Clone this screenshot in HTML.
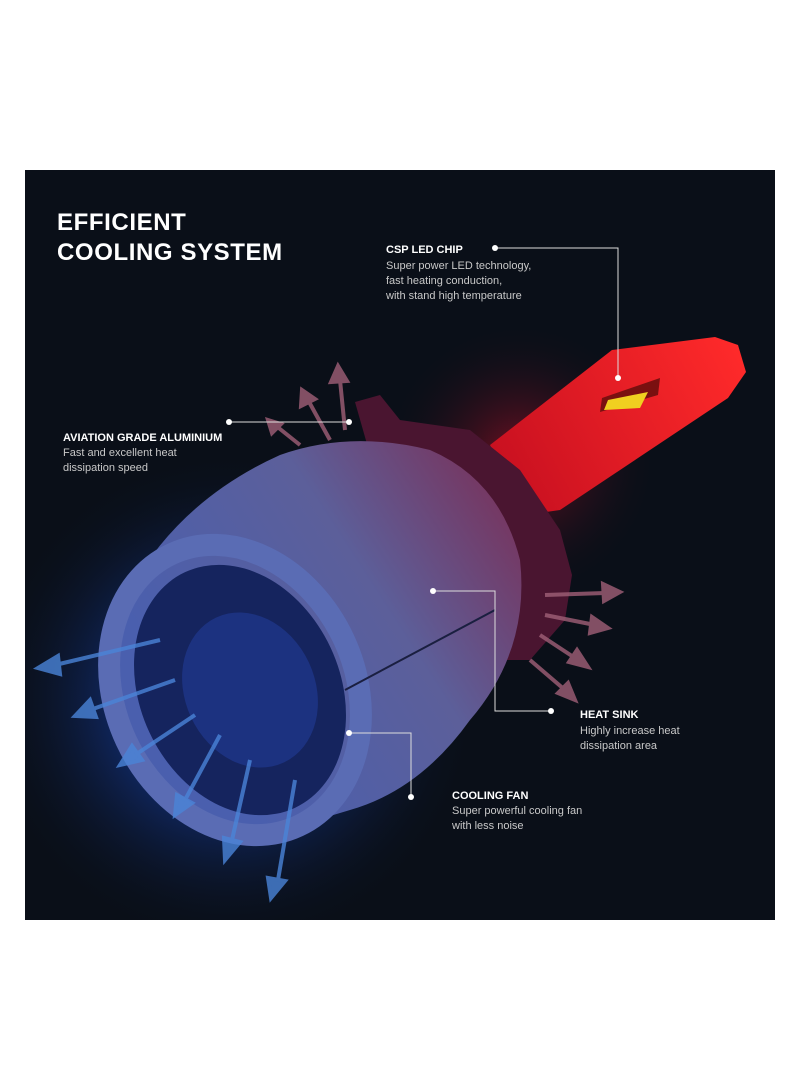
<!DOCTYPE html>
<html><head><meta charset="utf-8"><style>
html,body{margin:0;padding:0;background:#fff;}
body{width:800px;height:1091px;position:relative;overflow:hidden;font-family:"Liberation Sans",sans-serif;}
svg{position:absolute;left:0;top:0;}
</style></head><body>
<svg width="800" height="1091" viewBox="0 0 800 1091">
<defs>
<radialGradient id="glow" cx="230" cy="700" r="250" gradientUnits="userSpaceOnUse">
<stop offset="0" stop-color="#1d5fe0" stop-opacity="0.95"/>
<stop offset="0.45" stop-color="#143a9a" stop-opacity="0.55"/>
<stop offset="1" stop-color="#0a0f18" stop-opacity="0"/>
</radialGradient>
<radialGradient id="rglow" cx="520" cy="460" r="140" gradientUnits="userSpaceOnUse">
<stop offset="0" stop-color="#c0102a" stop-opacity="0.6"/>
<stop offset="1" stop-color="#0a0f18" stop-opacity="0"/>
</radialGradient>
<linearGradient id="body" x1="180" y1="700" x2="520" y2="480" gradientUnits="userSpaceOnUse">
<stop offset="0" stop-color="#4a5fae"/>
<stop offset="0.55" stop-color="#5c5f9a"/>
<stop offset="1" stop-color="#7a3058"/>
</linearGradient>
<linearGradient id="stem" x1="500" y1="480" x2="740" y2="350" gradientUnits="userSpaceOnUse">
<stop offset="0" stop-color="#c81020"/>
<stop offset="1" stop-color="#ff2a2a"/>
</linearGradient>
</defs>
<rect x="25" y="170" width="750" height="750" fill="#0a0f18"/>
<rect x="25" y="170" width="750" height="750" fill="url(#glow)"/>
<rect x="25" y="170" width="750" height="750" fill="url(#rglow)"/>
<!-- stem -->
<polygon points="490,445 612,350 715,337 738,345 746,372 728,398 560,510 525,515" fill="url(#stem)"/>
<polygon points="602,398 660,378 658,395 600,412" fill="#7a1010"/>
<polygon points="608,400 648,392 640,408 604,410" fill="#f0d020"/>
<!-- flange -->
<path d="M355,402 L380,395 L400,420 L470,430 L520,470 L560,530 L572,575 L565,620 L530,660 L470,660 L400,560 Z" fill="#4a1530"/>
<!-- body -->
<path d="M130,590 Q180,500 280,455 Q350,430 430,450 Q500,480 520,560 Q530,650 470,720 Q420,790 350,810 L300,825 Q220,845 160,800 Q110,740 115,660 Z" fill="url(#body)"/>
<!-- front ring -->
<ellipse cx="235" cy="690" rx="120" ry="150" transform="rotate(-25 235 690)" fill="none" stroke="#5a6cb4" stroke-width="22"/>
<ellipse cx="240" cy="690" rx="100" ry="130" transform="rotate(-25 240 690)" fill="#15245e"/>
<ellipse cx="250" cy="690" rx="65" ry="80" transform="rotate(-25 250 690)" fill="#1c3280"/>
<line x1="345" y1="690" x2="495" y2="610" stroke="#1a1f40" stroke-width="2"/>
<!-- arrows blue -->
<g stroke="#4a84d8" stroke-width="4" fill="#4a84d8" opacity="0.8">
<line x1="160" y1="640" x2="55" y2="665"/><polygon points="38,668 58,656 60,674"/>
<line x1="175" y1="680" x2="90" y2="710"/><polygon points="75,716 90,700 96,717"/>
<line x1="195" y1="715" x2="135" y2="755"/><polygon points="120,765 132,746 142,760"/>
<line x1="220" y1="735" x2="185" y2="800"/><polygon points="175,815 177,795 192,803"/>
<line x1="250" y1="760" x2="232" y2="840"/><polygon points="225,860 224,838 240,842"/>
<line x1="295" y1="780" x2="278" y2="880"/><polygon points="271,898 268,878 285,881"/>
</g>
<g stroke="#a06078" stroke-width="4" fill="#a06078" opacity="0.8">
<line x1="345" y1="430" x2="340" y2="380"/><polygon points="338,366 331,382 347,381"/>
<line x1="330" y1="440" x2="308" y2="400"/><polygon points="302,390 301,406 315,399"/>
<line x1="300" y1="445" x2="275" y2="425"/><polygon points="268,420 272,433 281,424"/>
<line x1="545" y1="595" x2="605" y2="593"/><polygon points="620,592 603,584 604,601"/>
<line x1="545" y1="615" x2="595" y2="625"/><polygon points="608,628 592,617 590,633"/>
<line x1="540" y1="635" x2="575" y2="658"/><polygon points="588,667 577,650 569,662"/>
<line x1="530" y1="660" x2="565" y2="690"/><polygon points="575,700 568,683 558,693"/>
</g>
<!-- connectors -->
<g stroke="#ddd" stroke-width="1" fill="none">
<polyline points="495,248 618,248 618,378"/>
<polyline points="229,422 349,422"/>
<polyline points="433,591 495,591 495,711 551,711"/>
<polyline points="349,733 411,733 411,797"/>
</g>
<g fill="#fff">
<circle cx="495" cy="248" r="3"/><circle cx="618" cy="378" r="3"/>
<circle cx="229" cy="422" r="3"/><circle cx="349" cy="422" r="3"/>
<circle cx="433" cy="591" r="3"/><circle cx="551" cy="711" r="3"/>
<circle cx="349" cy="733" r="3"/><circle cx="411" cy="797" r="3"/>
</g>
<g font-family="Liberation Sans, sans-serif" fill="#fff">
<text x="57" y="230" font-size="24" font-weight="bold" letter-spacing="0.6">EFFICIENT</text>
<text x="57" y="260" font-size="24" font-weight="bold" letter-spacing="0.6">COOLING SYSTEM</text>
<text x="386" y="253" font-size="11" font-weight="bold">CSP LED CHIP</text>
<text x="63" y="441" font-size="11" font-weight="bold">AVIATION GRADE ALUMINIUM</text>
<text x="580" y="718" font-size="11" font-weight="bold">HEAT SINK</text>
<text x="452" y="799" font-size="11" font-weight="bold">COOLING FAN</text>
</g>
<g font-family="Liberation Sans, sans-serif" fill="#c8c8c8" font-size="11">
<text x="386" y="269">Super power LED technology,</text>
<text x="386" y="284">fast heating conduction,</text>
<text x="386" y="299">with stand high temperature</text>
<text x="63" y="456">Fast and excellent heat</text>
<text x="63" y="471">dissipation speed</text>
<text x="580" y="734">Highly increase heat</text>
<text x="580" y="749">dissipation area</text>
<text x="452" y="814">Super powerful cooling fan</text>
<text x="452" y="829">with less noise</text>
</g>
</svg>
</body></html>
